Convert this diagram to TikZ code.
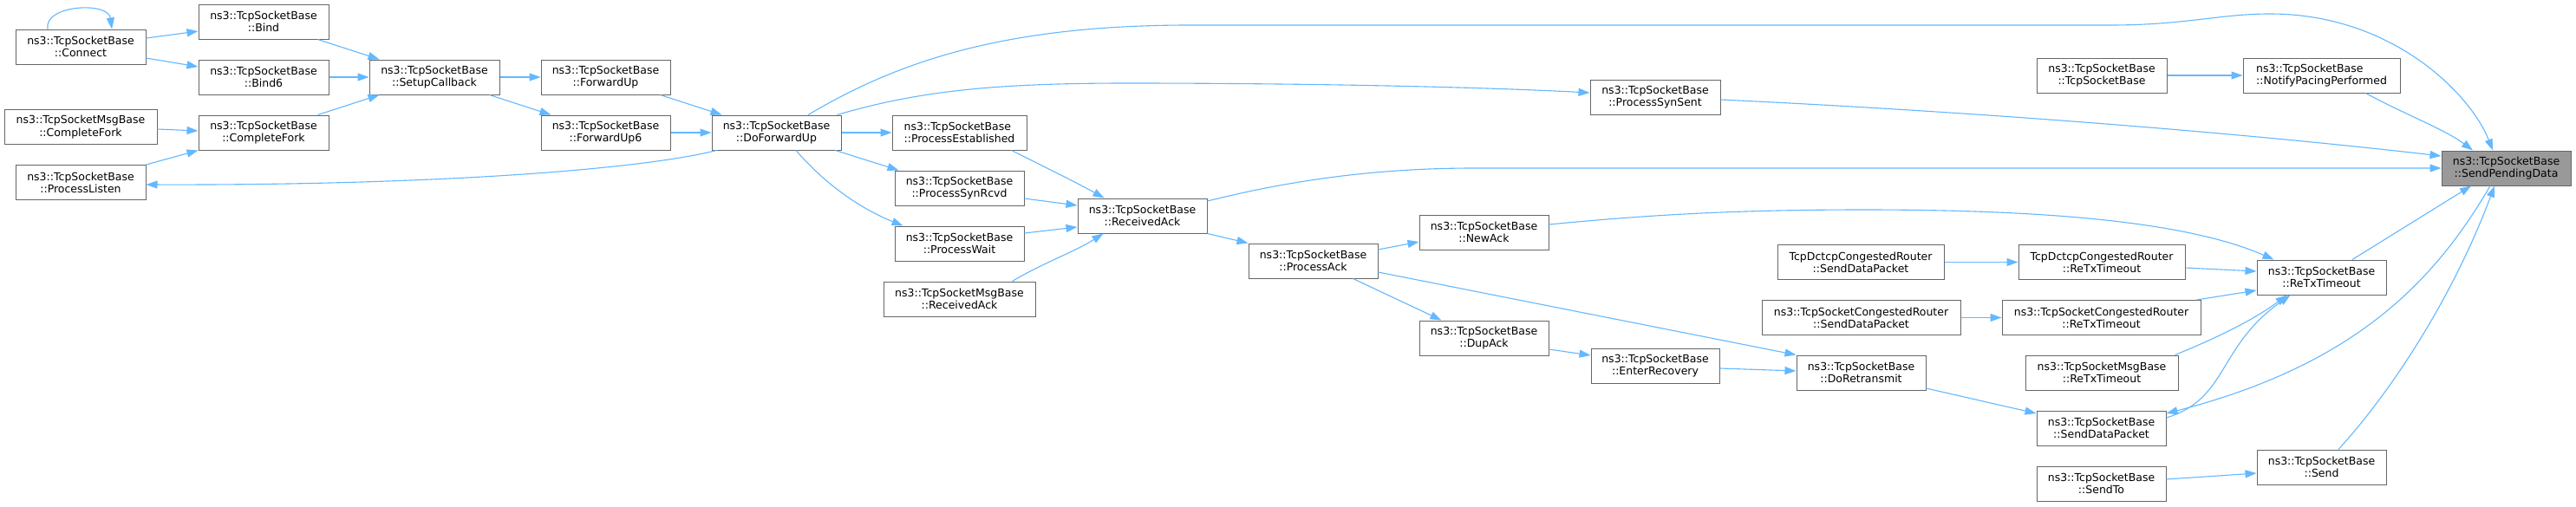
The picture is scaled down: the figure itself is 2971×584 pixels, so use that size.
\documentclass[tikz,border=0pt]{standalone}
\usepackage{fontspec}
\setmainfont{DejaVu Sans}
\usetikzlibrary{arrows.meta}
\definecolor{edgeblue}{HTML}{63B8FF}
\definecolor{nodeborder}{HTML}{666666}
\definecolor{focusfill}{HTML}{999999}
\tikzset{
  box/.style={draw=nodeborder, line width=1pt, fill=white, minimum height=40pt,
    inner sep=0pt, align=center, font=\fontsize{12.5pt}{14.3pt}\selectfont, text=black},
  focus/.style={box, fill=focusfill},
  leftbox/.style={box, align=left},
  edge/.style={draw=edgeblue, line width=1.1pt, -{Triangle[length=13pt,width=9pt]}},
}
\begin{document}
\begin{tikzpicture}[x=1pt,y=-1pt]
\fill[white] (0,0) rectangle (2971,584);
\useasboundingbox (0,0) rectangle (2971,584);
% nodes
\node[box, minimum width=150pt] (connect) at (93,54) {ns3::TcpSocketBase\\::Connect};
\node[box, minimum width=150pt] (bind) at (304,25) {ns3::TcpSocketBase\\::Bind};
\node[box, minimum width=150pt] (bindsix) at (304,89) {ns3::TcpSocketBase\\::Bind6};
\node[box, minimum width=176pt] (msgfork) at (93,146.5) {ns3::TcpSocketMsgBase\\::CompleteFork};
\node[box, minimum width=150pt] (fork) at (304,153) {ns3::TcpSocketBase\\::CompleteFork};
\node[box, minimum width=150pt] (listen) at (93,210.5) {ns3::TcpSocketBase\\::ProcessListen};
\node[box, minimum width=150pt] (setup) at (501,89) {ns3::TcpSocketBase\\::SetupCallback};
\node[box, minimum width=149pt] (fwdup) at (698.5,89) {ns3::TcpSocketBase\\::ForwardUp};
\node[box, minimum width=149pt] (fwdupsix) at (698.5,153) {ns3::TcpSocketBase\\::ForwardUp6};
\node[box, minimum width=149pt] (dofwd) at (895.5,153) {ns3::TcpSocketBase\\::DoForwardUp};
\node[leftbox, minimum width=155pt] (established) at (1106.5,153) {ns3::TcpSocketBase\\::ProcessEstablished};
\node[box, minimum width=149pt] (synrcvd) at (1106.5,217) {ns3::TcpSocketBase\\::ProcessSynRcvd};
\node[box, minimum width=149pt] (wait) at (1106.5,281) {ns3::TcpSocketBase\\::ProcessWait};
\node[box, minimum width=175pt] (msgrecv) at (1106.5,345) {ns3::TcpSocketMsgBase\\::ReceivedAck};
\node[box, minimum width=149pt] (recvack) at (1317.5,249) {ns3::TcpSocketBase\\::ReceivedAck};
\node[box, minimum width=149pt] (procack) at (1514.5,301) {ns3::TcpSocketBase\\::ProcessAck};
\node[box, minimum width=149pt] (newack) at (1711.5,268) {ns3::TcpSocketBase\\::NewAck};
\node[box, minimum width=149pt] (dupack) at (1711.5,390) {ns3::TcpSocketBase\\::DupAck};
\node[box, minimum width=150pt] (synsent) at (1909,112) {ns3::TcpSocketBase\\::ProcessSynSent};
\node[box, minimum width=148pt] (recovery) at (1909,422) {ns3::TcpSocketBase\\::EnterRecovery};
\node[box, minimum width=192pt] (dctcpsend) at (2146,302.5) {TcpDctcpCongestedRouter\\::SendDataPacket};
\node[box, minimum width=229pt] (congsend) at (2146.5,366.5) {ns3::TcpSocketCongestedRouter\\::SendDataPacket};
\node[box, minimum width=149pt] (retransmit) at (2146.5,430) {ns3::TcpSocketBase\\::DoRetransmit};
\node[box, minimum width=150pt] (ctor) at (2424,87) {ns3::TcpSocketBase\\::TcpSocketBase};
\node[box, minimum width=192pt] (dctcpretx) at (2424,302.5) {TcpDctcpCongestedRouter\\::ReTxTimeout};
\node[box, minimum width=229pt] (congretx) at (2423.5,366.5) {ns3::TcpSocketCongestedRouter\\::ReTxTimeout};
\node[box, minimum width=176pt] (msgretx) at (2424,430) {ns3::TcpSocketMsgBase\\::ReTxTimeout};
\node[box, minimum width=149pt] (senddata) at (2423.5,494) {ns3::TcpSocketBase\\::SendDataPacket};
\node[box, minimum width=149pt] (sendto) at (2423.5,558) {ns3::TcpSocketBase\\::SendTo};
\node[leftbox, minimum width=181pt] (notify) at (2677.5,87) {ns3::TcpSocketBase\\::NotifyPacingPerformed};
\node[box, minimum width=149pt] (retx) at (2677.5,320) {ns3::TcpSocketBase\\::ReTxTimeout};
\node[box, minimum width=149pt] (send) at (2677.5,539) {ns3::TcpSocketBase\\::Send};
\node[focus, minimum width=149pt] (spd) at (2890.5,194) {ns3::TcpSocketBase\\::SendPendingData};
% edges
\draw[edge] ([yshift=10pt]connect.east) -- ([yshift=-11pt]bind.west);
\draw[edge] ([yshift=-13pt]connect.east) -- ([yshift=12pt]bindsix.west);
\draw[edge] ([xshift=-38pt]connect.north) .. controls +(-5,-28) and +(-4,-32) .. ([xshift=36pt]connect.north);
\draw[edge] ([xshift=-13pt]bind.south east) -- ([xshift=12pt]setup.north west);
\draw[edge] (bindsix.east) -- (setup.west);
\draw[edge] ([xshift=-13pt]fork.north east) -- ([xshift=12pt]setup.south west);
\draw[edge] ([yshift=-2.5pt]msgfork.east) -- ([yshift=2pt]fork.west);
\draw[edge] (listen.north east) -- (fork.south west);
\draw[edge] (setup.east) -- (fwdup.west);
\draw[edge] ([xshift=-12pt]setup.south east) -- ([xshift=12pt]fwdupsix.north west);
\draw[edge] ([xshift=-12pt]fwdup.south east) -- ([xshift=12pt]dofwd.north west);
\draw[edge] (fwdupsix.east) -- (dofwd.west);
\draw[edge] ([xshift=6pt]dofwd.south west) .. controls +(-87,22) and +(332,1) .. ([yshift=-2.5pt]listen.east);
\draw[edge] ([xshift=36.5pt]dofwd.north) .. controls +(98,-58) and +(-222,0) .. (1372,29) -- (2434,29)
  .. controls +(86,0) and +(-58,0) .. (2618,16) .. controls +(142,0) and +(-25,-64) .. ([xshift=-15.5pt]spd.north);
\draw[edge] ([xshift=-5pt]dofwd.north east) .. controls +(95,-28) and +(-150,0) .. (1300,96)
  .. controls +(200,0) and +(-134,-7) .. ([yshift=5pt]synsent.west);
\draw[edge] (dofwd.east) -- (established.west);
\draw[edge] ([xshift=-7pt]dofwd.south east) -- ([xshift=5pt]synrcvd.north west);
\draw[edge] ([xshift=22.5pt]dofwd.south) .. controls +(32,37) and +(-52,-21) .. ([xshift=10pt]wait.north west);
\draw[edge] ([xshift=-18pt]established.south east) .. controls +(34,17) and +(-34,-19) .. ([xshift=31pt]recvack.north west);
\draw[edge] ([yshift=-12pt]synrcvd.east) -- ([yshift=12pt]recvack.west);
\draw[edge] ([yshift=12pt]wait.east) -- ([yshift=-13pt]recvack.west);
\draw[edge] ([xshift=-27pt]msgrecv.north east) .. controls +(33,-20) and +(-33,21) .. ([xshift=30pt]recvack.south west);
\draw[edge] ([yshift=17pt]recvack.east) .. controls +(88,-22) and +(-120,0) .. (1700,194) -- (spd.west);
\draw[edge] (recvack.south east) -- (procack.north west);
\draw[edge] ([yshift=13pt]procack.east) -- ([yshift=-11pt]newack.west);
\draw[edge] ([xshift=-29pt]procack.south east) -- ([xshift=26pt]dupack.north west);
\draw[edge] ([yshift=-13pt]procack.east) -- (retransmit.north west);
\draw[edge] ([yshift=-13pt]dupack.east) -- ([yshift=12pt]recovery.west);
\draw[edge] ([yshift=-3pt]recovery.east) -- ([yshift=2pt]retransmit.west);
\draw[edge] ([yshift=9pt]newack.east) .. controls +(114,-11) and +(-150,0) .. (2150,242)
  .. controls +(200,0) and +(-103,-45) .. ([xshift=20pt]retx.north west);
\draw[edge] ([yshift=-3pt]synsent.east) .. controls +(316,15) and +(-216,-25) .. ([yshift=14pt]spd.west);
\draw[edge] (ctor.east) -- (notify.west);
\draw[edge] ([xshift=-40pt]notify.south east) .. controls +(42,23) and +(-32,-24) .. ([xshift=-38.5pt]spd.north);
\draw[edge] (dctcpsend.east) -- (dctcpretx.west);
\draw[edge] (congsend.east) -- (congretx.west);
\draw[edge] ([yshift=-6.5pt]dctcpretx.east) -- ([yshift=7pt]retx.west);
\draw[edge] ([xshift=-5pt]congretx.north east) -- ([yshift=-15pt]retx.west);
\draw[edge] ([xshift=-4pt]msgretx.north east) .. controls +(42,-17) and +(-40,30) .. ([xshift=35pt]retx.south west);
\draw[edge] ([yshift=12pt]senddata.east) .. controls +(72,-22) and +(-85,60) .. ([xshift=39pt]retx.south west);
\draw[edge] ([xshift=35.5pt]retx.north) -- ([xshift=-40.5pt]spd.south);
\draw[edge] ([xshift=-18.5pt]spd.south) .. controls +(-62,106) and +(222,-57) .. ([yshift=17pt]senddata.east);
\draw[edge] ([xshift=19.5pt]send.north) .. controls +(63,-69) and +(-47,126) .. ([xshift=-13.5pt]spd.south);
\draw[edge] ([yshift=5pt]sendto.east) -- ([yshift=-7pt]send.west);
\draw[edge] ([yshift=-18pt]retransmit.east) -- ([yshift=17pt]senddata.west);
\end{tikzpicture}
\end{document}
